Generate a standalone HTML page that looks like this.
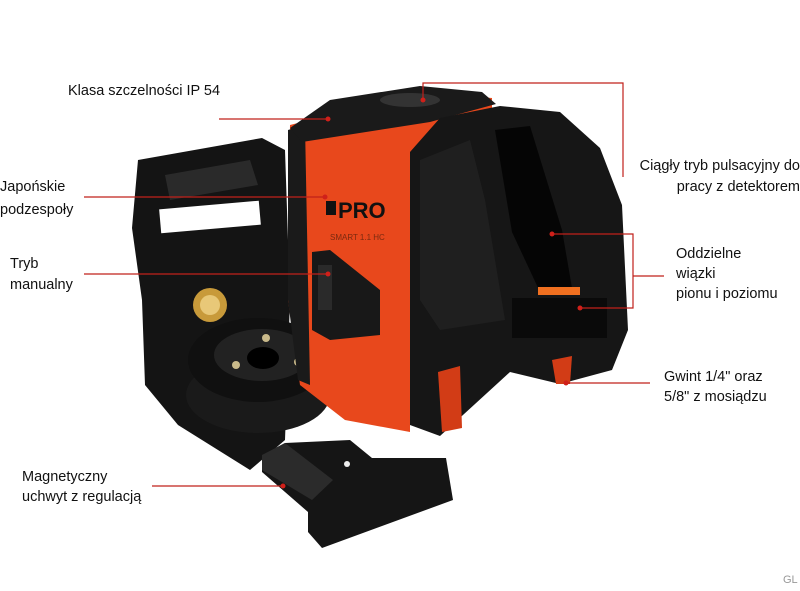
<!DOCTYPE html>
<html><head><meta charset="utf-8"><style>
html,body{margin:0;padding:0;background:#fff;}
body{width:800px;height:588px;position:relative;overflow:hidden;font-family:"Liberation Sans","DejaVu Sans",sans-serif;}
.t{position:absolute;font-size:14.5px;color:#111;line-height:21px;white-space:nowrap;}
svg{position:absolute;left:0;top:0;}
</style></head><body>
<svg width="800" height="588" viewBox="0 0 800 588">
<!-- bracket back plate -->
<polygon points="138,160 262,138 285,150 290,300 285,440 250,470 178,425 145,385 142,300 132,228" fill="#141414"/>
<polygon points="165,175 250,160 258,185 170,200" fill="#2a2a2a"/>
<rect x="160" y="205" width="100" height="24" fill="#fff" transform="rotate(-5 210 217)"/>
<circle cx="210" cy="305" r="17" fill="#c89a3a"/>
<circle cx="210" cy="305" r="10" fill="#e8c878"/>
<!-- disc assembly -->
<ellipse cx="258" cy="395" rx="72" ry="38" fill="#1a1a1a"/>
<ellipse cx="258" cy="360" rx="70" ry="42" fill="#101010"/>
<ellipse cx="262" cy="355" rx="48" ry="26" fill="#222"/>
<ellipse cx="263" cy="358" rx="16" ry="11" fill="#000"/>
<circle cx="236" cy="365" r="4" fill="#c9b98a"/><circle cx="266" cy="338" r="4" fill="#c9b98a"/><circle cx="298" cy="362" r="4" fill="#c9b98a"/>
<!-- magnetic foot -->
<polygon points="262,455 285,443 350,440 372,458 446,458 453,500 322,548 308,532 308,512 262,472" fill="#151515"/>
<polygon points="262,455 285,443 333,480 312,500 262,470" fill="#2b2b2b"/>
<circle cx="347" cy="464" r="3" fill="#eee"/>
<!-- main body orange -->
<polygon points="290,125 420,92 492,98 492,142 410,152 410,432 345,420 300,385 288,300" fill="#e8481c"/>
<polygon points="288,130 305,125 310,385 298,380 288,300" fill="#1a1a1a"/>
<!-- top cap -->
<polygon points="290,128 330,100 420,86 482,92 496,104 430,122 302,142" fill="#1a1a1a"/>
<ellipse cx="410" cy="100" rx="30" ry="7" fill="#333"/>
<!-- PRO logo -->
<rect x="326" y="201" width="10" height="14" fill="#111"/>
<text x="338" y="218" font-family="Liberation Sans,sans-serif" font-weight="bold" font-size="22" fill="#111">PRO</text>
<text x="330" y="240" font-family="Liberation Sans,sans-serif" font-size="8" fill="#7a2a10">SMART 1.1 HC</text>
<!-- manual switch -->
<polygon points="312,252 330,250 380,290 380,335 330,340 312,330" fill="#181818"/>
<rect x="318" y="265" width="14" height="45" fill="#2a2a2a"/>
<!-- right black face -->
<polygon points="410,152 440,118 500,106 560,112 600,148 622,205 628,330 612,370 560,384 510,372 440,436 410,425" fill="#161616"/>
<polygon points="495,130 530,126 562,230 572,288 540,292 512,232" fill="#050505"/>
<polygon points="420,160 470,140 485,200 505,320 440,330 420,300" fill="#1f1f1f"/>
<rect x="538" y="287" width="42" height="8" fill="#f07020"/>
<rect x="512" y="298" width="95" height="40" fill="#0a0a0a"/>
<!-- legs -->
<polygon points="438,372 460,366 462,428 442,432" fill="#d23c16"/>
<polygon points="552,360 572,356 570,384 556,384" fill="#d23c16"/>
<!-- connectors -->
<g stroke="#c0201a" stroke-width="1.2" fill="none">
<line x1="219" y1="119" x2="328" y2="119"/>
<line x1="84" y1="197" x2="325" y2="197"/>
<line x1="84" y1="274" x2="328" y2="274"/>
<polyline points="423,100 423,83 623,83 623,177"/>
<polyline points="552,234 633,234 633,308 580,308"/>
<line x1="633" y1="276" x2="664" y2="276"/>
<line x1="566" y1="383" x2="650" y2="383"/>
<line x1="152" y1="486" x2="283" y2="486"/>
</g>
<g fill="#d0201a">
<circle cx="328" cy="119" r="2.5"/><circle cx="325" cy="197" r="2.5"/><circle cx="328" cy="274" r="2.5"/>
<circle cx="423" cy="100" r="2.5"/><circle cx="552" cy="234" r="2.5"/><circle cx="580" cy="308" r="2.5"/>
<circle cx="566" cy="383" r="2.5"/><circle cx="283" cy="486" r="2.5"/>
</g>
</svg>
<div class="t" style="left:68px;top:81px;">Klasa szczelności IP 54</div>
<div class="t" style="left:0px;top:176px;line-height:23px;">Japońskie<br>podzespoły</div>
<div class="t" style="left:10px;top:254px;">Tryb<br>manualny</div>
<div class="t" style="right:0px;top:156px;text-align:right;">Ciągły tryb pulsacyjny do<br>pracy z detektorem</div>
<div class="t" style="left:676px;top:244px;line-height:20px;">Oddzielne<br>wiązki<br>pionu i poziomu</div>
<div class="t" style="left:664px;top:367px;line-height:20px;">Gwint 1/4" oraz<br>5/8" z mosiądzu</div>
<div class="t" style="left:22px;top:467px;line-height:20px;">Magnetyczny<br>uchwyt z regulacją</div>
<div class="t" style="left:783px;top:570px;color:#999;font-size:11px;">GL</div>
</body></html>
